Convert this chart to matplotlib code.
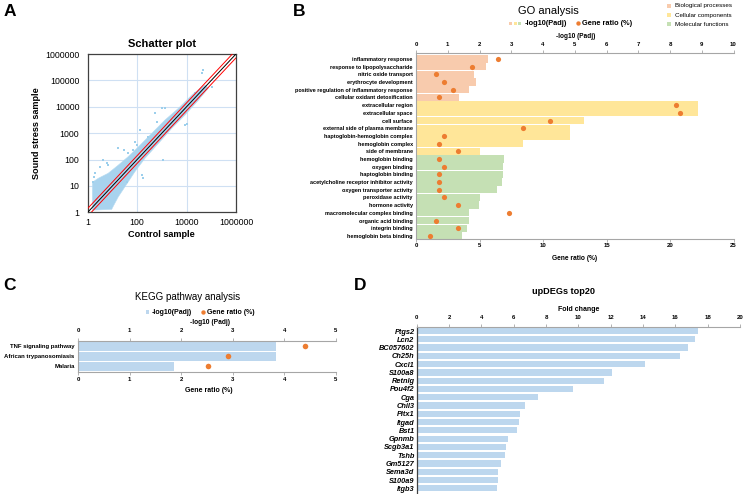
import numpy as np
import matplotlib
matplotlib.use('Agg')
import matplotlib.pyplot as plt
from matplotlib.patches import Rectangle

plt.rcParams['font.family'] = ['Liberation Sans', 'DejaVu Sans']

W, H = 746, 494

# ---------------- A: scatter (log10 values)
cloud_lx = [0.19, 0.19, 0.43, 0.83, 1.24, 1.64, 2.05, 2.59, 3.13, 3.67, 4.21, 4.55, 4.75,
            4.88, 4.48, 3.94, 3.40, 2.86, 2.32, 1.91, 1.51, 1.24, 1.04, 0.97]
cloud_ly = [0.08, 1.14, 1.29, 1.48, 1.79, 2.11, 2.48, 2.99, 3.50, 3.94, 4.44, 4.70, 4.82,
            4.70, 4.25, 3.69, 3.18, 2.61, 2.05, 1.54, 0.97, 0.59, 0.24, 0.11]
spread_lx = [3.00, 3.13, 2.72, 2.79, 4.01, 3.94, 2.12, 1.98, 1.85, 1.24, 1.64, 0.77, 0.83,
             0.30, 0.27, 2.25, 2.19, 3.06, 4.62, 4.68, 1.58, 5.02, 4.34, 3.53, 2.45, 1.91,
             1.48, 0.50, 0.63, 0.23]
spread_ly = [3.97, 3.94, 3.75, 3.43, 3.34, 3.31, 3.12, 2.55, 2.36, 2.42, 2.23, 1.86, 1.79,
             1.48, 1.35, 1.29, 1.41, 1.98, 5.27, 5.39, 1.16, 4.76, 4.51, 3.62, 2.86, 2.67,
             2.36, 1.73, 1.98, 1.16]
fold_line = 1.4

# ---------------- B: GO analysis
go_terms = ['inflammatory response', 'response to lipopolysaccharide', 'nitric oxide transport',
            'erythrocyte development', 'positive regulation of inflammatory response',
            'cellular oxidant detoxification',
            'extracellular region', 'extracellular space', 'cell surface',
            'external side of plasma membrane', 'haptoglobin-hemoglobin complex',
            'hemoglobin complex', 'side of membrane',
            'hemoglobin binding', 'oxygen binding', 'haptoglobin binding',
            'acetylcholine receptor inhibitor activity', 'oxygen transporter activity',
            'peroxidase activity', 'hormone activity', 'macromolecular complex binding',
            'organic acid binding', 'integrin binding', 'hemoglobin beta binding']
go_padj = [2.28, 2.21, 1.82, 1.89, 1.66, 1.35,
           8.87, 8.87, 5.30, 4.84, 4.84, 3.37, 2.00,
           2.78, 2.73, 2.73, 2.71, 2.56, 2.00, 1.98, 1.66, 1.66, 1.60, 1.44]
go_ratio = [6.49, 4.44, 1.55, 2.23, 2.94, 1.81,
            20.46, 20.75, 10.53, 8.41, 2.21, 1.81, 3.34,
            1.81, 2.21, 1.81, 1.81, 1.81, 2.21, 3.34, 7.33, 1.55, 3.34, 1.13]
go_class = ['Biological processes'] * 6 + ['Cellular components'] * 7 + ['Molecular functions'] * 11
class_colors = {'Biological processes': '#F8CBAD',
                'Cellular components': '#FFE699',
                'Molecular functions': '#C5E0B4'}

# ---------------- C: KEGG
kegg_terms = ['TNF signaling pathway', 'African trypanosomiasis', 'Malaria']
kegg_padj = [3.83, 3.83, 1.86]
kegg_ratio = [4.40, 2.91, 2.51]

# ---------------- D: top 20 up DEGs
genes = ['Ptgs2', 'Lcn2', 'BC057602', 'Ch25h', 'Cxcl1', 'S100a8', 'Retnlg', 'Pou4f2', 'Cga',
         'Chil3', 'Pitx1', 'Itgad', 'Bst1', 'Gpnmb', 'Scgb3a1', 'Tshb', 'Gm5127', 'Sema3d',
         'S100a9', 'Itgb3']
fold = [17.38, 17.20, 16.76, 16.27, 14.10, 12.10, 11.57, 9.69, 7.51, 6.68, 6.37, 6.33, 6.19,
        5.67, 5.55, 5.44, 5.24, 5.05, 5.03, 4.97]

BLUE_BAR = '#BDD7EE'
ORANGE = '#ED7D31'
GREY = '#A6A6A6'

fig = plt.figure(figsize=(W / 100, H / 100), dpi=100)


def px_axes(l, t, r, b):
    return fig.add_axes([l / W, 1 - b / H, (r - l) / W, (b - t) / H])


def bold_ticks(ax):
    for lab in ax.get_xticklabels():
        lab.set_fontweight('bold')


def dual_bar_axes(ax, ax2):
    # bars read on the top axis, dots on the bottom axis
    ax.xaxis.set_ticks_position('top')
    ax.xaxis.set_label_position('top')
    ax2.xaxis.set_ticks_position('bottom')
    ax2.xaxis.set_label_position('bottom')
    for a in (ax, ax2):
        for s in a.spines.values():
            s.set_visible(False)
    for s in (ax.spines['top'], ax.spines['left'], ax2.spines['bottom']):
        s.set_visible(True)
        s.set_color(GREY)
        s.set_linewidth(0.8)


# ===== Panel A
axA = px_axes(87.7, 54, 236, 212.3)
axA.set_xscale('log')
axA.set_yscale('log')
axA.set_xlim(1, 1e6)
axA.set_ylim(1, 1e6)
for v in [1e2, 1e4]:
    axA.axvline(v, color='#CFE0F3', lw=0.8, zorder=0)
for v in [1e1, 1e2, 1e3, 1e4, 1e5]:
    axA.axhline(v, color='#CFE0F3', lw=0.8, zorder=0)
axA.fill(10 ** np.array(cloud_lx), 10 ** np.array(cloud_ly), color='#A8D3EE', lw=0.4,
         ec='#B8DCF2', zorder=2)
axA.scatter(10 ** np.array(spread_lx), 10 ** np.array(spread_ly), s=1.5, marker='s',
            color='#9CCFEC', lw=0, zorder=2)
line = np.array([1, 1e6])
axA.plot(line, line, color='black', lw=0.7, zorder=3)
axA.plot(line, line * fold_line, color='red', lw=0.7, zorder=3)
axA.plot(line, line / fold_line, color='red', lw=0.7, zorder=3)
axA.set_xticks([1, 1e2, 1e4, 1e6])
axA.set_xticklabels(['1', '100', '10000', '1000000'])
axA.set_yticks([1, 1e1, 1e2, 1e3, 1e4, 1e5, 1e6])
axA.set_yticklabels(['1', '10', '100', '1000', '10000', '100000', '1000000'])
axA.minorticks_off()
axA.tick_params(axis='both', length=0, labelsize=6.3)
axA.tick_params(axis='x', pad=4)
axA.tick_params(axis='y', pad=6)
for s in axA.spines.values():
    s.set_color('#404040')
    s.set_linewidth(0.9)
axA.set_title('Schatter plot', fontsize=8, fontweight='bold', pad=5)
axA.set_xlabel('Control sample', fontsize=6.6, fontweight='bold', labelpad=2)
axA.set_ylabel('Sound stress sample', fontsize=6.6, fontweight='bold', labelpad=3)

# ===== Panel B
axB = px_axes(416, 53.3, 733.5, 239)
yB = np.arange(len(go_terms))
axB.barh(yB, go_padj, height=0.95, color=[class_colors[c] for c in go_class], zorder=1)
axB.set_xlim(0, 10)
axB.set_ylim(23.4, -0.74)
axB.set_yticks(yB)
axB.set_yticklabels(go_terms, fontsize=4.0, fontweight='bold')
axB2 = axB.twiny()
axB2.scatter(go_ratio, yB, s=14, color=ORANGE, lw=0, zorder=3)
axB2.set_xlim(0, 25)
dual_bar_axes(axB, axB2)
axB.set_xticks(range(0, 11))
axB2.set_xticks(range(0, 26, 5))
axB.tick_params(axis='y', length=0, pad=2.4)
axB.tick_params(axis='x', length=2, width=0.6, color=GREY, labelsize=4.3, pad=2.4)
axB2.tick_params(axis='x', length=2, width=0.6, color=GREY, labelsize=4.3, pad=1.2)
bold_ticks(axB)
bold_ticks(axB2)

# ===== Panel C
axC = px_axes(78, 340.7, 336, 371.7)
yC = np.arange(len(kegg_terms))
axC.barh(yC, kegg_padj, height=0.9, color=BLUE_BAR, zorder=1)
axC.set_xlim(0, 5)
axC.set_ylim(2.54, -0.56)
axC.set_yticks(yC)
axC.set_yticklabels(kegg_terms, fontsize=4.3, fontweight='bold')
axC2 = axC.twiny()
axC2.scatter(kegg_ratio, yC, s=16, color=ORANGE, lw=0, zorder=3)
axC2.set_xlim(0, 5)
dual_bar_axes(axC, axC2)
axC.set_xticks(range(0, 6))
axC2.set_xticks(range(0, 6))
axC.tick_params(axis='y', length=0, pad=2.4)
axC.tick_params(axis='x', length=2, width=0.6, color=GREY, labelsize=4.3, pad=3.4)
axC2.tick_params(axis='x', length=2, width=0.6, color=GREY, labelsize=4.3, pad=1.6)
bold_ticks(axC)
bold_ticks(axC2)

# ===== Panel D
axD = px_axes(416.7, 326.7, 740, 492.9)
yD = np.arange(len(genes))
axD.barh(yD, fold, height=0.75, color=BLUE_BAR)
axD.set_xlim(0, 20)
axD.set_ylim(19.55, -0.52)
axD.xaxis.set_ticks_position('top')
axD.set_xticks(range(0, 21, 2))
axD.set_yticks(yD)
axD.set_yticklabels(genes, fontsize=5.3, fontweight='bold', fontstyle='italic')
axD.tick_params(axis='y', length=0, pad=1.5)
axD.tick_params(axis='x', length=2, width=0.6, color=GREY, labelsize=4.3, pad=3)
bold_ticks(axD)
for s in axD.spines.values():
    s.set_visible(False)
axD.spines['top'].set_visible(True)
axD.spines['top'].set_color(GREY)
axD.spines['top'].set_linewidth(0.8)
axD.spines['left'].set_visible(True)
axD.spines['left'].set_color('#404040')
axD.spines['left'].set_linewidth(0.9)

# ===== overlay for titles, legends, panel letters (pixel coordinates)
ov = fig.add_axes([0, 0, 1, 1])
ov.set_xlim(0, W)
ov.set_ylim(H, 0)
ov.axis('off')


def txt(x, y, s, size, weight='normal', ha='center'):
    ov.text(x, y, s, fontsize=size, fontweight=weight, ha=ha, va='center')


for x, y, s in [(10, 12, 'A'), (299, 12, 'B'), (9, 285, 'C'), (360, 285, 'D')]:
    txt(x, y, s, 12.5, 'bold')

# B texts
txt(548, 11, 'GO analysis', 8)
for i, c in enumerate(class_colors):
    ov.add_patch(Rectangle((509 + i * 4.5, 21.6), 3.3, 3.3, color=class_colors[c], lw=0))
txt(524.5, 23.3, '-log10(Padj)', 5.3, 'bold', ha='left')
ov.scatter([577.7], [23.3], s=10, color=ORANGE, lw=0)
txt(581.5, 23.3, 'Gene ratio (%)', 5.3, 'bold', ha='left')
txt(576, 36.3, '-log10 (Padj)', 4.7, 'bold')
txt(575, 258.3, 'Gene ratio (%)', 4.8, 'bold')
for i, c in enumerate(class_colors):
    yy = [6, 15, 24.3][i]
    ov.add_patch(Rectangle((667, yy - 2), 4, 4, color=class_colors[c], lw=0))
    txt(675, yy, c, 4.5, ha='left')

# C texts
txt(188, 296.7, 'KEGG pathway analysis', 7)
ov.add_patch(Rectangle((146, 310.3), 3.3, 3.3, color=BLUE_BAR, lw=0))
txt(151.5, 312, '-log10(Padj)', 5, 'bold', ha='left')
ov.scatter([203.3], [312], s=10, color=ORANGE, lw=0)
txt(206.7, 312, 'Gene ratio (%)', 5, 'bold', ha='left')
txt(210, 322.3, '-log10 (Padj)', 4.8, 'bold')
txt(209, 390, 'Gene ratio (%)', 5, 'bold')

# D texts
txt(563.3, 291.7, 'upDEGs top20', 6.6, 'bold')
txt(578.8, 309, 'Fold change', 5, 'bold')

fig.savefig('out.png', dpi=100, facecolor='white')
